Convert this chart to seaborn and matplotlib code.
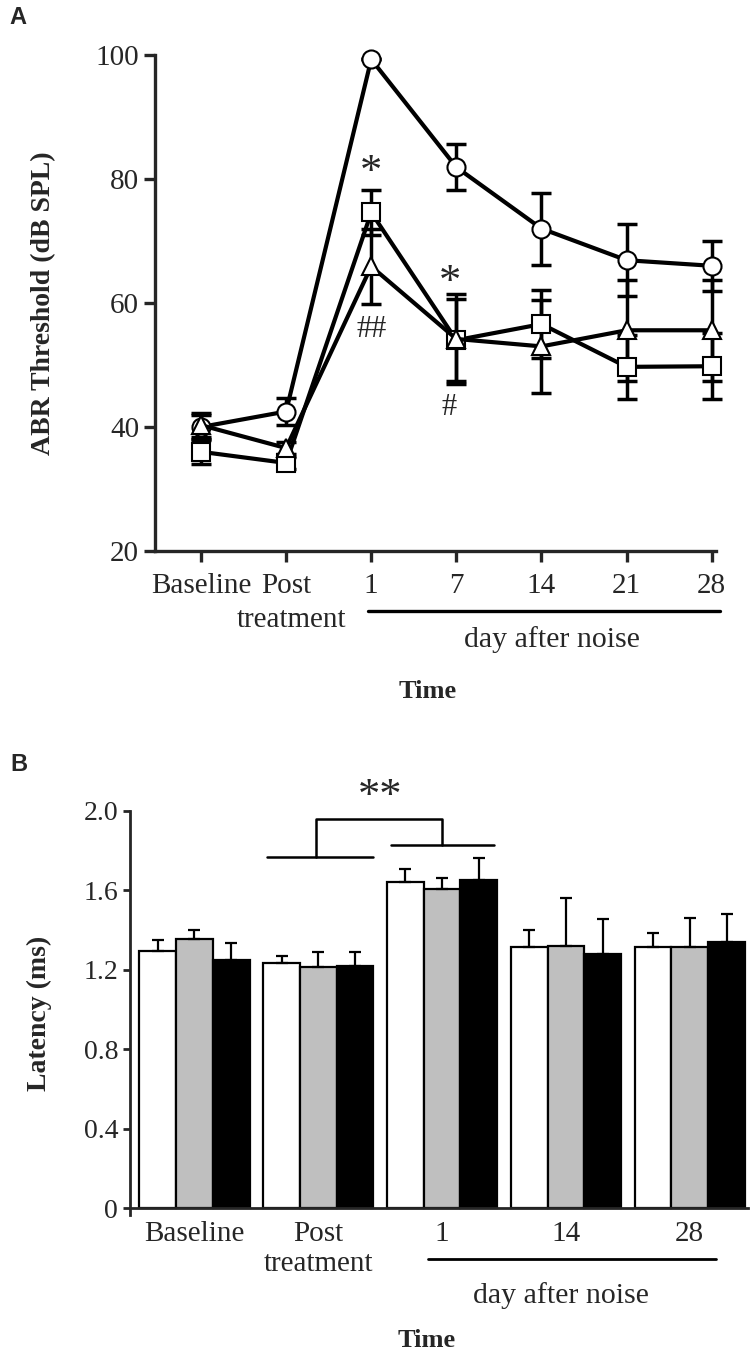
import numpy as np
import pandas as pd
import matplotlib
matplotlib.use("Agg")
import matplotlib.pyplot as plt
import seaborn as sns

# Panel A - ABR threshold over time
time_labels_a = ["Baseline", "Post", "1", "7", "14", "21", "28"]
circle = [40.0, 42.5, 99.3, 81.9, 72.0, 66.9, 66.0]
circle_err = [2.0, 2.1, 0.0, 3.7, 5.8, 5.8, 4.0]
square = [36.0, 34.2, 74.6, 54.0, 56.6, 49.7, 49.8]
square_err = [1.9, 1.0, 3.6, 6.6, 5.5, 5.2, 5.3]
triangle = [40.3, 36.6, 65.9, 54.2, 53.0, 55.6, 55.6]
triangle_err = [1.9, 1.0, 6.0, 7.3, 7.5, 8.1, 8.1]

# Panel B - latency
time_labels_b = ["Baseline", "Post\ntreatment", "1", "14", "28"]
groups_b = ["Group 1", "Group 2", "Group 3"]
lat_white = [1.296, 1.232, 1.641, 1.316, 1.316]
lat_gray = [1.356, 1.215, 1.606, 1.321, 1.316]
lat_black = [1.249, 1.220, 1.650, 1.277, 1.339]
err_white = [0.052, 0.039, 0.067, 0.084, 0.070]
err_gray = [0.044, 0.073, 0.057, 0.238, 0.146]
err_black = [0.085, 0.068, 0.114, 0.178, 0.140]

sns.set_style("ticks")
plt.rcParams['font.family'] = ['Liberation Serif', 'DejaVu Serif']

fig = plt.figure(figsize=(7.5, 13.56), dpi=100)

# ---------------- Panel A ----------------
ax = fig.add_axes([155/750, 1 - 551/1356, (716 - 155)/750, 496/1356])

df_a = pd.DataFrame({
    "pos": list(range(7)) * 3,
    "thr": circle + square + triangle,
    "grp": ["circle"] * 7 + ["square"] * 7 + ["triangle"] * 7,
})

for vals, errs in [(circle, circle_err), (square, square_err), (triangle, triangle_err)]:
    ax.errorbar(np.arange(7), vals, yerr=errs, fmt='none', ecolor='black',
                elinewidth=2.5, capsize=7, capthick=2.5, zorder=1, clip_on=False)

sns.lineplot(data=df_a, x="pos", y="thr", style="grp",
             markers={"circle": "o", "square": "s", "triangle": "^"},
             dashes=False, color="black", linewidth=3.0, markersize=13,
             markerfacecolor="white", markeredgecolor="black", markeredgewidth=1.5,
             legend=False, ax=ax, clip_on=False, zorder=3)

ax.set_xlim(-0.54, 6.05)
ax.set_ylim(20, 100)
ax.set_yticks([20, 40, 60, 80, 100])
ax.set_xticks(range(7))
ax.set_xticklabels(time_labels_a)
ax.tick_params(axis='both', labelsize=21, length=8, width=2.4, direction='out')
ax.tick_params(axis='x', pad=8)
for s in ['top', 'right']:
    ax.spines[s].set_visible(False)
for s in ['left', 'bottom']:
    ax.spines[s].set_linewidth(2.4)
ax.set_xlabel("")
ax.set_ylabel("ABR Threshold (dB SPL)", fontsize=20, fontweight='bold')
ax.yaxis.set_label_coords(-0.176, 0.5)

# second line of the "Post treatment" label
ax.text(1.06, 8.9, "treatment", fontsize=21, ha='center', va='center')

# annotations
ax.text(2, 80.9, "*", fontsize=32, ha='center', va='center')
ax.text(2, 55.7, "##", fontsize=22, ha='center', va='center')
ax.text(2.92, 63.2, "*", fontsize=32, ha='center', va='center')
ax.text(2.92, 43.2, "#", fontsize=22, ha='center', va='center')

ax.plot([1.96, 6.1], [10.3, 10.3], color='black', lw=2.4, clip_on=False)
ax.text(4.12, 5.65, "day after noise", fontsize=21.5, ha='center', va='center')
ax.text(2.66, -2.74, "Time", fontsize=19, fontweight='bold', ha='center', va='center')

# ---------------- Panel B ----------------
ax2 = fig.add_axes([130/750, 1 - 1215.2/1356, (748 - 130)/750, 404.5/1356])

df_b = pd.DataFrame({
    "time": time_labels_b * 3,
    "lat": lat_white + lat_gray + lat_black,
    "grp": [groups_b[0]] * 5 + [groups_b[1]] * 5 + [groups_b[2]] * 5,
})

sns.barplot(data=df_b, x="time", y="lat", hue="grp",
            palette=["white", "#bfbfbf", "black"], saturation=1,
            edgecolor="black", linewidth=1.6, width=0.89, errorbar=None,
            legend=False, ax=ax2)

for cont, errs in zip(ax2.containers, [err_white, err_gray, err_black]):
    xs = [b.get_x() + b.get_width() / 2 for b in cont]
    ys = [b.get_height() for b in cont]
    ax2.errorbar(xs, ys, yerr=[np.zeros(len(errs)), errs], fmt='none',
                 ecolor='black', elinewidth=1.6, capsize=4, capthick=1.6, zorder=3)

ax2.set_xlim(-0.52, 4.47)
ax2.set_ylim(-0.035, 2.0)
ax2.spines['bottom'].set_position(('data', 0))
ax2.set_yticks([0, 0.4, 0.8, 1.2, 1.6, 2.0])
ax2.set_yticklabels(["0", "0.4", "0.8", "1.2", "1.6", "2.0"])
ax2.tick_params(axis='y', labelsize=20, length=5, width=2.0)
ax2.tick_params(axis='x', labelsize=21, length=0, pad=9)
for s in ['top', 'right']:
    ax2.spines[s].set_visible(False)
for s in ['left', 'bottom']:
    ax2.spines[s].set_linewidth(2.0)
ax2.set_xlabel("")
ax2.set_ylabel("Latency (ms)", fontsize=20, fontweight='bold')
ax2.yaxis.set_label_coords(-0.126, 0.5)

# significance bracket
ax2.plot([0.59, 1.44], [1.765, 1.765], color='black', lw=1.8)
ax2.plot([1.585, 2.42], [1.827, 1.827], color='black', lw=1.8)
ax2.plot([0.98, 0.98, 2.0, 2.0], [1.765, 1.958, 1.958, 1.827], color='black', lw=1.8)
ax2.text(1.5, 2.07, "**", fontsize=32, ha='center', va='center')

ax2.plot([1.89, 4.21], [-0.256, -0.256], color='black', lw=2.0, clip_on=False)
ax2.text(2.96, -0.438, "day after noise", fontsize=21.5, ha='center', va='center')
ax2.text(1.875, -0.665, "Time", fontsize=19, fontweight='bold', ha='center', va='center')

fig.text(9/750, 1 - 6/1356, "A", fontsize=17, fontweight='bold',
         family='Liberation Sans', ha='left', va='top')
fig.text(10/750, 1 - 753/1356, "B", fontsize=17, fontweight='bold',
         family='Liberation Sans', ha='left', va='top')

fig.savefig("out.png", dpi=100)
